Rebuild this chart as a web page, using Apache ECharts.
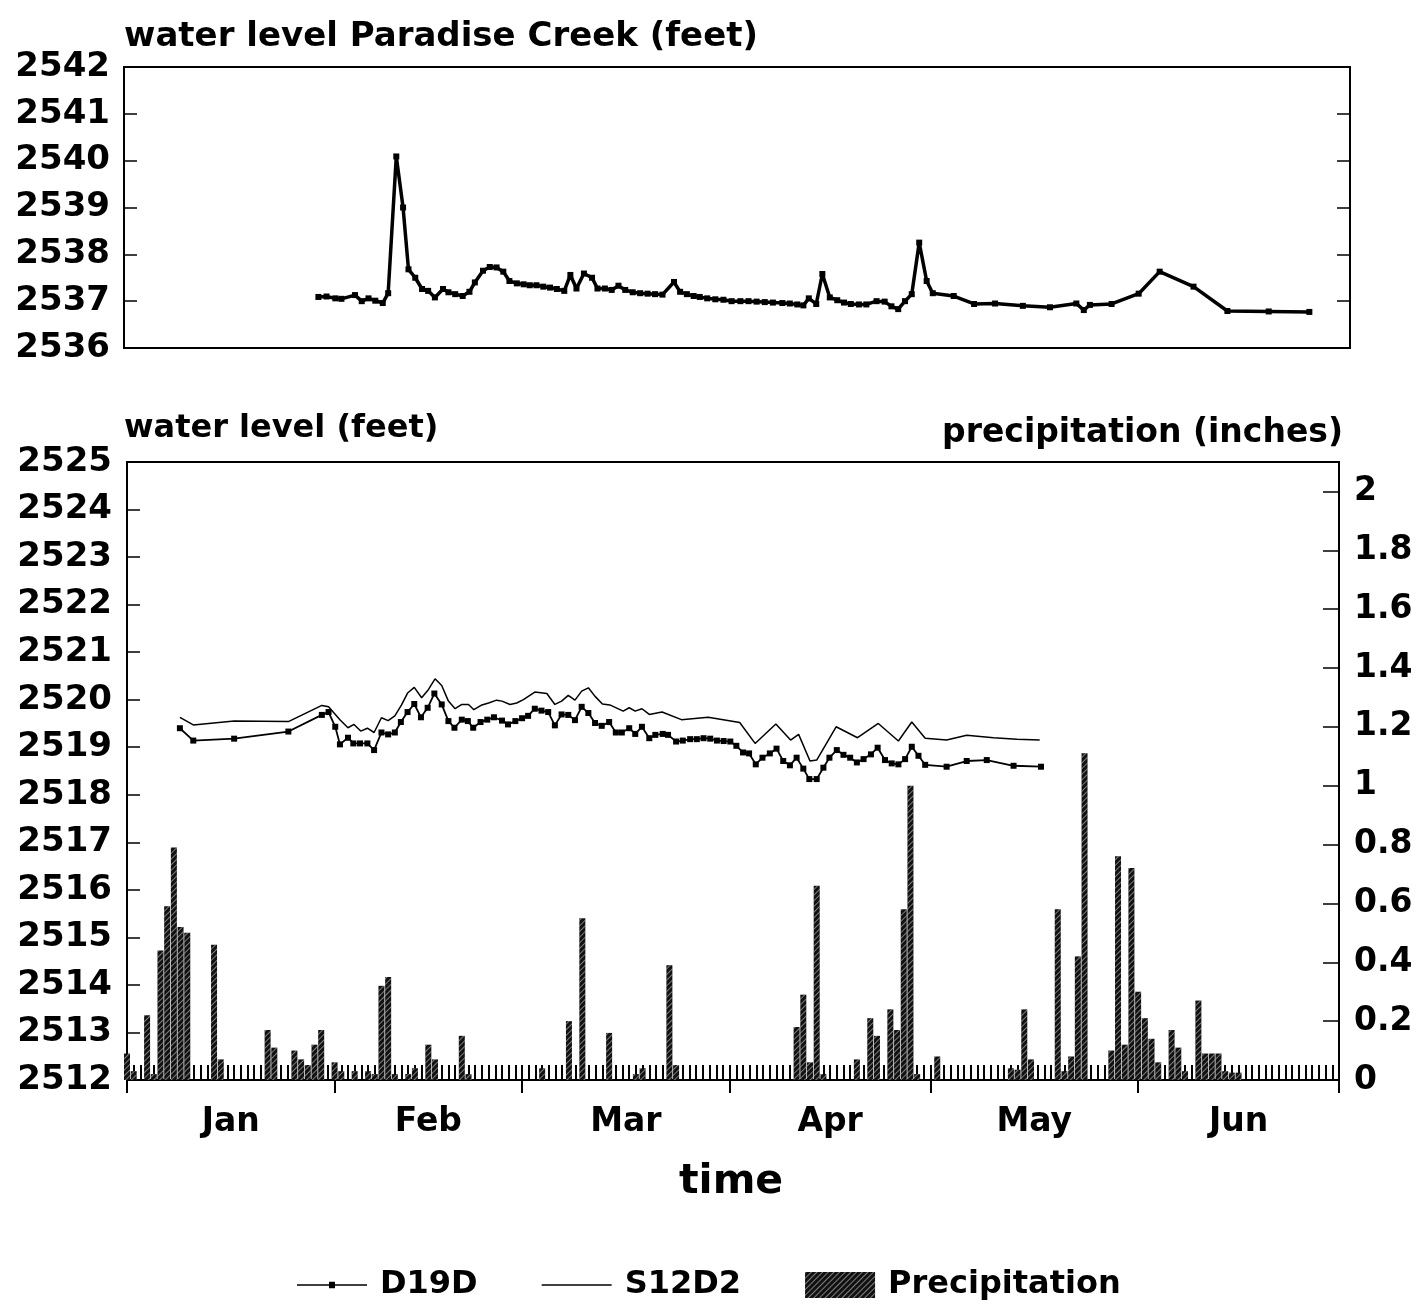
<!DOCTYPE html>
<html>
<head>
<meta charset="utf-8">
<script src="https://cdn.jsdelivr.net/npm/echarts@6/dist/echarts.min.js"></script>
<style>
html,body{margin:0;padding:0;background:#fff;}
#chart{width:1420px;height:1306px;}
</style>
</head>
<body>
<div id="chart"></div>
<script>
// ---- data (x values are days counted from the start of January) ----
const monthLabels = ['Jan','Feb','Mar','Apr','May','Jun'];
const monthBounds = [0,31,59,90,120,151,181];

// Paradise Creek water level (feet)
const creekDays = [28.7,29.9,31.2,32.1,34.1,35.1,36.1,37.1,38.2,39.0,40.2,41.2,42.0,43.0,44.0,44.9,45.9,47.1,47.9,48.9,50.0,51.0,51.8,53.0,54.0,55.0,56.0,56.9,58.0,59.0,59.9,60.9,61.9,62.9,63.9,65.0,65.9,66.8,67.9,69.1,69.9,71.0,72.0,73.0,74.0,75.1,76.2,77.3,78.4,79.5,81.2,82.1,83.1,84.1,85.0,86.1,87.3,88.5,89.7,91.0,92.2,93.4,94.6,95.8,97.2,98.3,99.4,100.3,101.1,102.2,103.1,104.2,105.3,106.3,107.3,108.5,109.6,111.1,112.3,113.3,114.3,115.3,116.3,117.4,118.5,119.4,122.5,125.5,128.6,132.7,136.7,140.6,141.7,142.6,145.8,149.8,152.9,157.9,162.9,169.0,175.0];
const creekLevel = [2537.09,2537.10,2537.06,2537.05,2537.13,2537.00,2537.06,2537.01,2536.96,2537.17,2540.09,2539.00,2537.68,2537.50,2537.26,2537.22,2537.08,2537.26,2537.19,2537.15,2537.11,2537.20,2537.40,2537.65,2537.73,2537.72,2537.63,2537.43,2537.38,2537.36,2537.34,2537.34,2537.31,2537.29,2537.26,2537.22,2537.56,2537.27,2537.59,2537.50,2537.27,2537.27,2537.24,2537.33,2537.24,2537.19,2537.17,2537.16,2537.15,2537.14,2537.41,2537.20,2537.15,2537.11,2537.09,2537.06,2537.04,2537.03,2537.00,2537.00,2537.00,2536.99,2536.98,2536.97,2536.96,2536.95,2536.93,2536.91,2537.06,2536.94,2537.58,2537.08,2537.02,2536.97,2536.94,2536.93,2536.93,2537.00,2536.99,2536.89,2536.83,2537.00,2537.15,2538.25,2537.43,2537.17,2537.11,2536.94,2536.95,2536.90,2536.87,2536.95,2536.81,2536.92,2536.94,2537.16,2537.63,2537.31,2536.79,2536.78,2536.77];

// D19D water level (feet)
const d19dDays = [7.9,9.9,16.0,24.1,29.1,30.1,31.1,31.8,33.0,33.8,34.8,35.9,36.9,38.0,39.0,40.0,40.9,41.9,42.9,43.9,44.9,45.9,47.0,48.0,48.9,50.0,50.9,51.7,52.8,53.8,54.8,56.0,56.9,58.0,59.0,59.9,60.9,61.9,62.9,63.9,64.9,65.9,66.9,67.9,68.9,69.9,70.9,72.0,73.0,73.9,75.0,75.9,76.9,78.0,78.9,80.0,80.8,82.0,83.0,84.1,85.1,86.1,87.1,88.1,89.1,90.1,91.0,92.0,92.9,93.9,94.9,96.0,97.0,98.0,99.0,100.0,101.0,101.9,103.0,104.0,104.9,106.0,107.0,108.0,109.0,110.0,111.1,112.1,113.2,114.2,115.2,116.2,117.2,118.2,119.2,122.4,125.4,128.4,132.4,136.5];
const d19dLevel = [2519.40,2519.14,2519.18,2519.33,2519.68,2519.74,2519.43,2519.06,2519.20,2519.08,2519.08,2519.08,2518.94,2519.31,2519.27,2519.31,2519.53,2519.74,2519.91,2519.63,2519.83,2520.13,2519.90,2519.55,2519.41,2519.58,2519.55,2519.41,2519.53,2519.58,2519.63,2519.56,2519.48,2519.55,2519.61,2519.66,2519.81,2519.77,2519.74,2519.46,2519.69,2519.68,2519.57,2519.85,2519.72,2519.51,2519.45,2519.53,2519.31,2519.31,2519.40,2519.28,2519.43,2519.19,2519.26,2519.28,2519.26,2519.12,2519.14,2519.17,2519.17,2519.19,2519.18,2519.14,2519.13,2519.12,2519.03,2518.89,2518.87,2518.64,2518.78,2518.87,2518.97,2518.71,2518.62,2518.78,2518.55,2518.33,2518.33,2518.57,2518.78,2518.94,2518.84,2518.78,2518.68,2518.75,2518.85,2518.99,2518.73,2518.66,2518.64,2518.75,2519.01,2518.82,2518.63,2518.59,2518.71,2518.73,2518.61,2518.59];

// S12D2 water level (feet)
const s12d2Days = [7.9,9.9,16.0,24.1,29.1,30.1,31.8,33.0,33.9,34.9,35.9,36.9,38.0,39.0,40.0,41.0,41.9,42.9,44.0,45.0,46.0,47.0,48.0,49.0,50.0,51.0,51.8,53.0,54.0,55.2,56.0,57.2,58.2,59.2,60.9,62.7,63.9,64.9,65.9,66.9,67.9,68.9,69.9,71.0,72.1,74.1,75.0,75.9,76.9,78.0,79.9,82.8,86.8,91.5,93.8,96.9,99.1,100.3,102.0,103.0,105.9,109.1,112.2,115.2,117.2,119.2,122.4,125.4,129.4,132.9,136.3];
const s12d2Level = [2519.63,2519.47,2519.55,2519.54,2519.88,2519.85,2519.58,2519.41,2519.48,2519.34,2519.40,2519.31,2519.62,2519.56,2519.66,2519.89,2520.14,2520.26,2520.04,2520.21,2520.44,2520.30,2519.97,2519.81,2519.90,2519.90,2519.79,2519.89,2519.93,2519.99,2519.97,2519.90,2519.93,2520.00,2520.16,2520.13,2519.90,2519.97,2520.09,2519.99,2520.18,2520.25,2520.07,2519.91,2519.89,2519.76,2519.83,2519.76,2519.81,2519.69,2519.74,2519.58,2519.63,2519.52,2519.08,2519.49,2519.15,2519.27,2518.71,2518.73,2519.43,2519.20,2519.50,2519.13,2519.53,2519.19,2519.15,2519.25,2519.20,2519.17,2519.15];

// Daily precipitation (inches)
const precipDays = [0,1,3,4,5,6,7,8,9,13,14,21,22,25,26,27,28,29,31,32,34,36,37,38,39,40,42,43,45,46,50,51,62,66,68,72,76,77,81,82,100,101,102,103,104,109,111,112,114,115,116,117,118,121,132,133,134,135,139,140,141,142,143,147,148,149,150,151,152,153,154,156,157,158,160,161,162,163,164,165,166];
const precipInches = [0.09,0.03,0.22,0.02,0.44,0.59,0.79,0.52,0.50,0.46,0.07,0.17,0.11,0.10,0.07,0.05,0.12,0.17,0.06,0.03,0.03,0.03,0.02,0.32,0.35,0.02,0.02,0.04,0.12,0.07,0.15,0.02,0.04,0.20,0.55,0.16,0.02,0.04,0.39,0.05,0.18,0.29,0.06,0.66,0.02,0.07,0.21,0.15,0.24,0.17,0.58,1.00,0.02,0.08,0.04,0.035,0.24,0.07,0.58,0.03,0.08,0.42,1.11,0.10,0.76,0.12,0.72,0.30,0.21,0.14,0.06,0.17,0.11,0.03,0.27,0.09,0.09,0.09,0.03,0.025,0.025];

// ---- chart ----
const FONT = 'DejaVu Sans';
const pair = (xs, ys) => xs.map((x, i) => [x, ys[i]]);
const labelMid = monthBounds.slice(0, -1).map((b, i) => (b + monthBounds[i + 1]) / 2);

const chart = echarts.init(document.getElementById('chart'), null, {renderer: 'canvas'});
const plain = v => String(v);
const axisTxt = {color: '#000', fontFamily: FONT, fontWeight: 'bold', fontSize: 34, formatter: plain};
const frameLine = {show: true, onZero: false, lineStyle: {color: '#000', width: 2}};
const hatch = {symbol: 'rect', symbolSize: 1, dashArrayX: [1, 0], dashArrayY: [1, 3], rotation: -Math.PI / 4, color: 'rgba(255,255,255,0.45)'};

chart.setOption({
  animation: false,
  backgroundColor: '#fff',
  title: [
    {text: 'water level Paradise Creek (feet)', left: 124, top: 20, padding: 0,
     textStyle: {fontFamily: FONT, fontWeight: 'bold', fontSize: 34, color: '#000'}},
    {text: 'water level (feet)', left: 124, top: 413, padding: 0,
     textStyle: {fontFamily: FONT, fontWeight: 'bold', fontSize: 32, color: '#000'}},
    {text: 'precipitation (inches)', right: 77, top: 417, padding: 0,
     textStyle: {fontFamily: FONT, fontWeight: 'bold', fontSize: 33, color: '#000'}},
    {text: 'time', left: 679, top: 1162, padding: 0,
     textStyle: {fontFamily: FONT, fontWeight: 'bold', fontSize: 41, color: '#000'}}
  ],
  legend: {
    left: 292, top: 1264, itemWidth: 70, itemHeight: 26, itemGap: 64,
    data: [
      {name: 'D19D', icon: 'path://M0,2.5 L70,2.5 L70,4 L0,4 Z M32,0 L38,0 L38,6.5 L32,6.5 Z'},
      {name: 'S12D2', icon: 'path://M0,0 L70,0 L70,1.5 L0,1.5 Z'},
      {name: 'Precipitation', icon: 'rect'}
    ],
    textStyle: {fontFamily: FONT, fontWeight: 'bold', fontSize: 32, color: '#000', padding: [0, 0, 0, 8]}
  },
  grid: [
    {left: 124, right: 70, top: 67, height: 281, show: true, borderColor: '#000', borderWidth: 2, backgroundColor: 'transparent'},
    {left: 127, right: 81, top: 462, height: 618, show: true, borderColor: '#000', borderWidth: 2, backgroundColor: 'transparent'}
  ],
  xAxis: [
    {gridIndex: 0, type: 'value', min: 0, max: 181, show: false},
    {gridIndex: 1, type: 'value', min: 0, max: 181, position: 'bottom',
     axisLine: frameLine,
     axisTick: {show: true, inside: false, length: 13, customValues: monthBounds, lineStyle: {color: '#000', width: 2}},
     axisLabel: {show: true, customValues: labelMid, margin: 26, color: '#000', fontFamily: FONT, fontWeight: 'bold', fontSize: 33,
       formatter: v => { const i = labelMid.indexOf(v); return i >= 0 ? monthLabels[i] : ''; }},
     splitLine: {show: false}},
    {gridIndex: 1, type: 'value', min: 0, max: 181, interval: 1, position: 'bottom',
     axisLine: {show: false, onZero: false},
     axisTick: {show: true, inside: true, length: 15, lineStyle: {color: '#000', width: 2}},
     axisLabel: {show: false}, splitLine: {show: false}}
  ],
  yAxis: [
    {gridIndex: 0, type: 'value', min: 2536, max: 2542, interval: 1, position: 'left',
     axisLine: frameLine,
     axisTick: {show: true, inside: true, length: 13, lineStyle: {color: '#000', width: 1.5}},
     axisLabel: Object.assign({margin: 14}, axisTxt), splitLine: {show: false}},
    {gridIndex: 0, type: 'value', min: 2536, max: 2542, interval: 1, position: 'right',
     axisLine: frameLine,
     axisTick: {show: true, inside: true, length: 13, lineStyle: {color: '#000', width: 1.5}},
     axisLabel: {show: false}, splitLine: {show: false}},
    {gridIndex: 1, type: 'value', min: 2512, max: 2525, interval: 1, position: 'left',
     axisLine: frameLine,
     axisTick: {show: true, inside: true, length: 13, lineStyle: {color: '#000', width: 1.5}},
     axisLabel: Object.assign({margin: 15}, axisTxt), splitLine: {show: false}},
    {gridIndex: 1, type: 'value', min: 0, max: 2.1, interval: 0.2, position: 'right',
     axisLine: frameLine,
     axisTick: {show: true, inside: true, length: 16, lineStyle: {color: '#000', width: 1.5}},
     axisLabel: {margin: 15, showMaxLabel: false, fontSize: 33, color: '#000', fontFamily: FONT, fontWeight: 'bold'},
     splitLine: {show: false}}
  ],
  series: [
    {name: 'Paradise Creek', type: 'line', xAxisIndex: 0, yAxisIndex: 0, data: pair(creekDays, creekLevel),
     symbol: 'rect', symbolSize: 6, showSymbol: true,
     lineStyle: {color: '#000', width: 3.5}, itemStyle: {color: '#000'}},
    {name: 'Precipitation', type: 'bar', xAxisIndex: 1, yAxisIndex: 3, data: pair(precipDays, precipInches),
     barWidth: 6, z: 3,
     itemStyle: {color: '#111', decal: hatch}},
    {name: 'S12D2', type: 'line', xAxisIndex: 1, yAxisIndex: 2, data: pair(s12d2Days, s12d2Level),
     symbol: 'none', lineStyle: {color: '#000', width: 1.5}, itemStyle: {color: '#000'}, z: 4},
    {name: 'D19D', type: 'line', xAxisIndex: 1, yAxisIndex: 2, data: pair(d19dDays, d19dLevel),
     symbol: 'rect', symbolSize: 6, showSymbol: true,
     lineStyle: {color: '#000', width: 1.8}, itemStyle: {color: '#000'}, z: 5}
  ]
});
</script>
</body>
</html>
